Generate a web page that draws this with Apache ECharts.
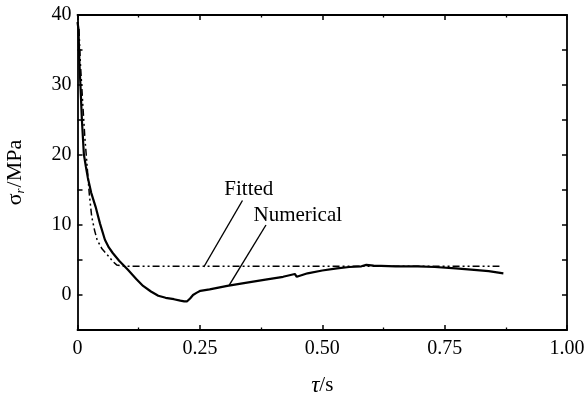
<!DOCTYPE html>
<html>
<head>
<meta charset="utf-8">
<script src="https://cdn.jsdelivr.net/npm/echarts@6/dist/echarts.min.js"></script>
<style>
  html, body { margin: 0; padding: 0; background: #fff; }
  #chart { width: 587px; height: 396px; }
</style>
</head>
<body>
<div id="chart"></div>
<script>
// numerical result (tau in s, sigma_r in MPa)
const numTau = [0, 0.002, 0.004, 0.006, 0.009, 0.013, 0.017, 0.021, 0.028, 0.037, 0.046, 0.056, 0.064, 0.072, 0.085, 0.103, 0.12, 0.134, 0.15, 0.165, 0.18, 0.197, 0.21, 0.218, 0.224, 0.23, 0.236, 0.243, 0.251, 0.27, 0.306, 0.34, 0.384, 0.42, 0.444, 0.448, 0.47, 0.5, 0.53, 0.555, 0.58, 0.59, 0.605, 0.65, 0.695, 0.73, 0.773, 0.81, 0.84, 0.87];
const numSigma = [39, 38, 33, 30, 25, 20.1, 18.4, 16.8, 14.6, 12.6, 10.2, 7.9, 6.8, 6.0, 4.9, 3.6, 2.3, 1.3, 0.5, -0.1, -0.4, -0.6, -0.8, -0.9, -0.9, -0.5, 0, 0.3, 0.6, 0.8, 1.3, 1.7, 2.2, 2.6, 3.0, 2.6, 3.1, 3.5, 3.8, 4.0, 4.1, 4.3, 4.2, 4.1, 4.1, 4.0, 3.8, 3.6, 3.4, 3.1];

// fitted curve
const fitTau = [0.003, 0.006, 0.011, 0.015, 0.019, 0.024, 0.029, 0.035, 0.04, 0.05, 0.064, 0.072, 0.08, 0.09, 0.1, 0.862];
const fitSigma = [38, 33, 27, 22.5, 19, 14.5, 11.2, 9.2, 7.9, 6.6, 5.5, 4.8, 4.3, 4.15, 4.1, 4.1];

const xTicks = ['0', '0.25', '0.50', '0.75', '1.00'];
const yTicks = [0, 10, 20, 30, 40];

const zip = (a, b) => a.map((v, i) => [v, b[i]]);

const serif = '"Liberation Serif", "DejaVu Serif", serif';
const black = '#000';

const chart = echarts.init(document.getElementById('chart'));

const baseAxis = {
  axisLine: { show: true, onZero: false, lineStyle: { color: black, width: 1.8 } },
  axisTick: { show: true, inside: true, length: 5, lineStyle: { color: black, width: 1.5 } },
  splitLine: { show: false }
};
const xMinor = { show: true, splitNumber: 2, length: 2.5, lineStyle: { color: black, width: 1.3 } };

chart.setOption({
  animation: false,
  backgroundColor: '#fff',
  grid: { left: 77.5, right: 20, top: 15, bottom: 66, containLabel: false, outerBoundsMode: 'none' },
  xAxis: [
    Object.assign({}, baseAxis, {
      type: 'value', min: 0, max: 1, interval: 0.25, position: 'bottom',
      minorTick: xMinor,
      name: '{i|τ}/s', nameLocation: 'middle', nameGap: 44,
      nameTextStyle: {
        fontFamily: serif, fontSize: 21, color: black,
        rich: { i: { fontFamily: serif, fontStyle: 'italic', fontSize: 23, color: black } }
      },
      axisLabel: {
        fontFamily: serif, fontSize: 20, color: black, margin: 9,
        formatter: v => xTicks[Math.round(v / 0.25)]
      }
    }),
    Object.assign({}, baseAxis, {
      type: 'value', min: 0, max: 1, interval: 0.25, position: 'top',
      minorTick: xMinor,
      axisLabel: { show: false }
    })
  ],
  yAxis: [
    Object.assign({}, baseAxis, {
      type: 'value', min: -5, max: 40, interval: 5, position: 'left',
      name: 'σ{s|r}/MPa', nameLocation: 'middle', nameGap: 50, nameRotate: 90,
      nameTextStyle: {
        fontFamily: serif, fontSize: 22, color: black,
        rich: { s: { fontFamily: serif, fontStyle: 'italic', fontSize: 13, color: black, padding: [12, 1, 0, 0] } }
      },
      axisLabel: {
        fontFamily: serif, fontSize: 20, color: black, margin: 6,
        formatter: v => (yTicks.indexOf(v) >= 0 ? String(v) : '')
      }
    }),
    Object.assign({}, baseAxis, {
      type: 'value', min: -5, max: 40, interval: 5, position: 'right',
      axisLabel: { show: false }
    })
  ],
  series: [
    {
      name: 'Numerical',
      type: 'line',
      data: zip(numTau, numSigma),
      showSymbol: false,
      z: 3,
      lineStyle: { color: black, width: 2.2 },
      markLine: {
        silent: true, symbol: 'none',
        lineStyle: { color: black, width: 1.4, type: 'solid' },
        label: { show: false },
        data: [[{ coord: [0.385, 10.0] }, { coord: [0.31, 1.4] }]]
      },
      markPoint: {
        silent: true, symbolSize: 0,
        label: { show: true, formatter: '{b}', fontFamily: serif, fontSize: 21, color: black },
        data: [{ name: 'Numerical', coord: [0.45, 11.4] }]
      }
    },
    {
      name: 'Fitted',
      type: 'line',
      data: zip(fitTau, fitSigma),
      showSymbol: false,
      z: 2,
      lineStyle: { color: black, width: 1.5, type: [7, 3, 2, 3, 2, 3] },
      markLine: {
        silent: true, symbol: 'none',
        lineStyle: { color: black, width: 1.4, type: 'solid' },
        label: { show: false },
        data: [[{ coord: [0.337, 13.5] }, { coord: [0.258, 4.0] }]]
      },
      markPoint: {
        silent: true, symbolSize: 0,
        label: { show: true, formatter: '{b}', fontFamily: serif, fontSize: 21, color: black },
        data: [{ name: 'Fitted', coord: [0.35, 15.1] }]
      }
    }
  ]
});
</script>
</body>
</html>
